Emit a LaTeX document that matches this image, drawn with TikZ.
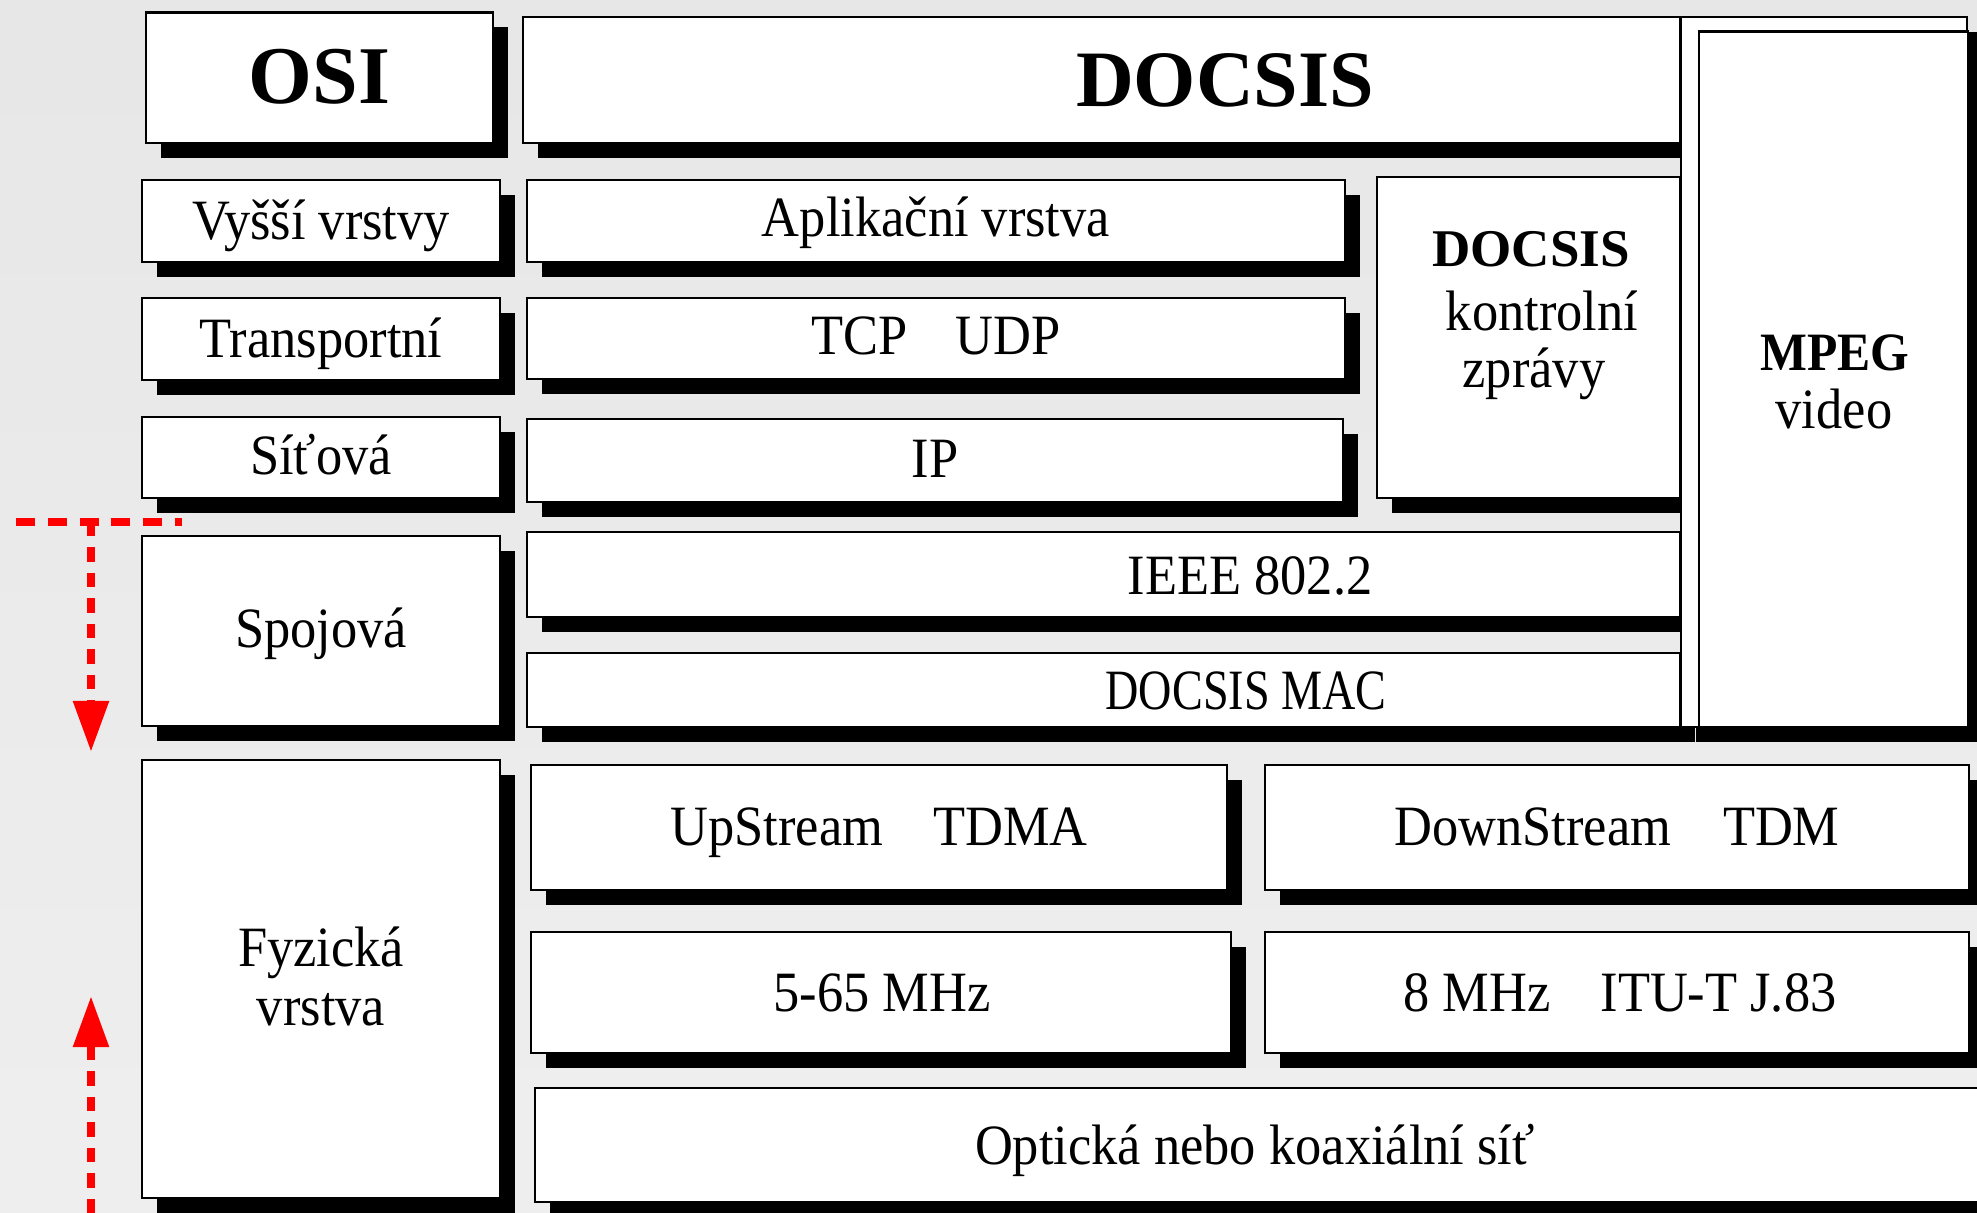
\documentclass[tikz,border=0pt]{standalone}
\usepackage{fontspec}
\usepackage{graphicx}
\setmainfont{Liberation Serif}[FakeStretch=0.92]
\newfontfamily\headfont{Liberation Serif}
\usetikzlibrary{fit,shadows,arrows.meta}

\definecolor{bgtop}{gray}{0.905}
\definecolor{bgmid}{gray}{0.955}
\definecolor{bgbot}{gray}{0.935}
\definecolor{arrowred}{RGB}{255,0,0}

\begin{document}
\begin{tikzpicture}[x=0.5pt,y=-0.5pt,
  layer/.style={draw=black, line width=1.2pt, fill=white, inner sep=0pt, outer sep=0pt,
    drop shadow={shadow xshift=7.5pt, shadow yshift=-7.5pt, opacity=1, fill=black}},
  flat/.style={draw=black, line width=1.2pt, fill=white, inner sep=0pt, outer sep=0pt},
  lbl/.style={anchor=base, inner sep=0pt, font=\fontsize{28.5pt}{29.5pt}\selectfont},
  head/.style={anchor=base, inner sep=0pt, font=\headfont\bfseries\fontsize{#1}{#1}\selectfont},
  redline/.style={draw=arrowred, line width=4.25pt},
  tip/.style={-{Triangle[length=25.5pt,width=17pt]}}
]
% page and background
\useasboundingbox (0,0) rectangle (1977,1213);
\clip (0,0) rectangle (1977,1213);
\shade[top color=bgtop, middle color=bgmid, bottom color=bgbot] (0,0) rectangle (1977,1213);

% OSI column
\node[layer, fit={(146,12.5) (493,143)}] (osi) {};
\node[layer, fit={(142,180) (500,262)}] (vyssi) {};
\node[layer, fit={(142,298) (500,380)}] (trans) {};
\node[layer, fit={(142,417) (500,498)}] (sitova) {};
\node[layer, fit={(142,536) (500,726)}] (spoj) {};
\node[layer, fit={(142,760) (500,1198)}] (fyz) {};

% DOCSIS stack
\node[layer, fit={(523,17) (1680,143)}] (docsis) {};
\node[layer, fit={(527,180) (1345,262)}] (app) {};
\node[layer, fit={(527,298) (1345,379)}] (tcp) {};
\node[layer, fit={(527,419) (1343,502)}] (ip) {};
\node[layer, fit={(1377,177) (1680,498)}] (ctl) {};
\node[layer, fit={(527,532) (1680,617)}] (ieee) {};
\node[layer, fit={(527,653) (1680,727)}] (mac) {};
\node[layer, fit={(1681,17) (1967,727)}] (mpegframe) {};
\node[flat, fit={(1699,31.5) (1968,727)}] (mpeg) {};

% physical layer
\node[layer, fit={(531,765) (1227,890)}] (up) {};
\node[layer, fit={(1265,765) (1969,890)}] (down) {};
\node[layer, fit={(531,932) (1231,1053)}] (low) {};
\node[layer, fit={(1265,932) (1969,1053)}] (high) {};
\node[layer, fit={(535,1088) (1995,1202)}] (net) {};

% labels
\node[head=41pt] (tosi) at (319.5,104) {OSI};
\node[head=40pt] (tdocsis) at (1225,107) {DOCSIS};
\node[lbl] (tvyssi) at (321,240) {Vyšší vrstvy};
\node[lbl] (ttrans) at (321,358) {Transportní};
\node[lbl] (tsitova) at (321,475) {Síťová};
\node[lbl] (tspoj) at (321,648) {Spojová};
\node[lbl] (tfyz) at (321,966) {Fyzická};
\node[lbl] (tfyzb) at (321,1025) {vrstva};

\node[lbl] (tapp) at (936,237) {Aplikační vrstva};
\node[lbl] (ttcp) at (936,355) {TCP\hspace{24pt}UDP};
\node[lbl] (tip) at (935,478) {IP};
\node[head=26.5pt] (tctl) at (1531,266.6) {DOCSIS};
\node[lbl] (tctlb) at (1542,330.6) {kontrolní};
\node[lbl] (tctlc) at (1534,388) {zprávy};
\node[lbl, font=\bfseries\fontsize{27pt}{27pt}\selectfont] (tmpeg) at (1835,371) {MPEG};
\node[lbl] (tvideo) at (1834,429) {video};
\node[lbl] (tieee) at (1250,595) {IEEE 802.2};
\node[lbl] (tmac) at (1246,710) {\scalebox{0.88}[1]{DOCSIS MAC}};

\node[lbl] (tup) at (879,845) {UpStream\hspace{25pt}TDMA};
\node[lbl] (tdown) at (1617,845) {DownStream\hspace{26pt}TDM};
\node[lbl] (tlow) at (882,1011.5) {5-65 MHz};
\node[lbl] (thigh) at (1620,1011.5) {8 MHz\hspace{25pt}ITU-T J.83};
\node[lbl] (tnet) at (1255,1164) {Optická nebo koaxiální síť};

% red boundary marker and arrows
\coordinate (hl) at (16,522);
\coordinate (hr) at (182,522);
\coordinate (dtop) at (91,522);
\coordinate (dtip) at (91,752);
\coordinate (ubot) at (91,1213);
\coordinate (utip) at (91,996);
\draw[redline, dash pattern=on 9.5pt off 6.4pt] (hl) -- (hr);
\draw[redline, dash pattern=on 7.25pt off 5.5pt, tip] (dtop) -- (dtip);
\draw[redline, dash pattern=on 7.25pt off 5.5pt, tip] (ubot) -- (utip);
\end{tikzpicture}
\end{document}
